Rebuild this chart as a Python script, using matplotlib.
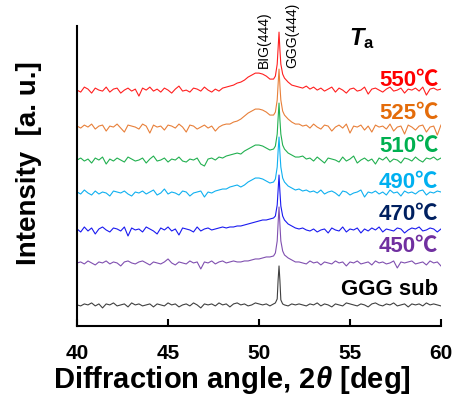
import matplotlib
matplotlib.use('Agg')
import matplotlib.pyplot as plt
import numpy as np

plt.rcParams['font.family'] = ['Liberation Sans', 'Noto Sans CJK JP']
plt.rcParams['mathtext.fontset'] = 'custom'
plt.rcParams['mathtext.rm'] = 'Liberation Sans:bold'
plt.rcParams['mathtext.it'] = 'Liberation Sans:italic:bold'
plt.rcParams['mathtext.bf'] = 'Liberation Sans:bold'

# ---- data (intensity relative to each trace's baseline, arbitrary units) ----
x_ticks = [40, 45, 50, 55, 60]
two_theta_mid = [49.0, 49.2, 49.4, 49.6, 49.8, 50.0, 50.2, 50.4, 50.6, 50.8, 50.9,
                 51.0, 51.05, 51.1, 51.15, 51.2, 51.3, 51.4, 51.6, 51.8, 52.0]

labels = ['550\u2103', '525\u2103', '510\u2103', '490\u2103', '470\u2103', '450\u2103', 'GGG sub']

red_left = [0,-2,3,1,-3,2,0,-1,3,-2,1,2,-3,0,2,-1,1,-6,2,0,3,-1,1,-2,2,0,-3,1,4,-1,0,-2,2,1,-1,3,0,-2,1,-1,2,3,4,5,7]
red_mid = [8,10,13,15,17,17,16,14,11,11,14,26,42,58,40,26,16,12,8,5,4]
red_right = [3,2,4,1,3,0,2,-1,1,3,-2,2,0,-3,1,2,-1,0,3,-4,1,2,0,-2,1,3,-1,0,2,-3,1,0,2,-1,3,-5,1,2,0,1]

orange_left = [1,-1,2,0,3,-2,1,2,-4,1,0,3,-1,-5,2,1,0,-2,3,1,-6,2,0,1,-3,2,1,-1,3,0,-5,2,1,-2,0,2,-1,1,-4,0,2,3,3,5,6]
orange_mid = [8,11,14,16,18,18,17,15,12,12,15,27,43,58,41,27,16,12,8,5,3]
orange_right = [3,1,2,-1,3,0,-2,2,1,-4,0,2,-1,3,-6,1,0,2,-3,1,-5,2,0,1,-2,3,-4,0,1,-7,2,0,-3,1,2,-5,0,1,-8,2]

green_left = [0,2,-1,1,-3,2,0,3,-4,1,-1,2,0,-2,3,1,-1,0,2,-3,1,4,-1,0,2,-2,1,0,3,-1,-2,1,0,2,-4,-6,1,2,0,3,2,4,5,6,7]
green_mid = [6,9,11,13,15,15,14,12,10,11,14,26,42,57,40,26,15,11,7,5,3]
green_right = [3,4,1,2,-1,3,0,-3,2,1,0,-2,3,-1,1,4,-3,0,2,-1,1,-4,2,0,3,-2,1,0,-3,2,1,-1,3,0,-2,2,1,3,0,2]

cyan_left = [1,-1,3,0,-2,2,-1,1,0,-3,2,1,0,2,-1,-3,1,0,2,-1,1,3,-2,0,4,-1,1,0,-2,2,1,-3,0,1,2,-4,1,0,2,3,4,4,6,7,8]
cyan_mid = [6,8,11,13,15,15,14,12,10,11,14,26,42,56,40,26,15,11,7,5,3]
cyan_right = [4,2,3,1,2,0,3,-1,1,2,0,-3,2,1,-2,0,1,3,-4,1,0,2,-1,1,-2,3,0,1,-3,2,0,1,-1,2,3,-2,1,0,2,1]

blue_left = [1,-2,3,-1,2,-4,1,3,0,-2,2,1,-1,3,-6,2,0,1,-2,3,1,-1,-4,2,0,3,-1,1,-5,2,1,0,-2,3,-1,1,2,0,1,2,3,2,3,3,4]
blue_mid = [4,5,6,7,8,9,10,10,11,12,14,25,40,55,38,24,14,10,6,4,2]
blue_right = [1,2,0,-1,1,-2,0,1,-3,2,0,-1,3,-2,1,0,2,-3,1,-1,2,0,3,-2,1,0,-1,2,1,-3,0,2,1,3,-1,0,2,1,-2,1]

purple_left = [0,1,-1,2,0,-2,1,0,2,-1,1,0,-3,1,2,0,-1,1,2,0,-2,1,0,-1,1,4,0,-2,1,0,-1,2,0,1,-6,1,0,2,-1,1,2,0,1,2,1]
purple_mid = [1,2,2,3,4,4,5,6,6,7,10,22,40,56,38,22,12,8,5,3,1]
purple_right = [1,0,-1,2,0,1,-2,1,0,-1,2,0,1,-3,1,0,2,-1,0,1,-2,2,0,1,-1,0,2,-5,1,0,1,2,-1,0,1,-2,2,0,1,-3]

black_left = [0,-1,1,0,2,-1,1,-3,1,0,2,-1,0,1,-2,2,0,1,-1,0,1,-2,1,0,-1,2,0,1,-2,0,1,-1,2,0,-3,1,0,1,-1,2,0,1,-2,1,2]
black_mid = [0,1,-1,0,2,1,0,1,-1,1,2,6,25,39,24,5,1,0,-1,1,0]
black_right = [1,0,-1,1,0,2,-1,1,0,-2,1,0,-1,2,1,0,-1,1,0,-2,1,2,0,-1,1,0,2,-1,0,1,-2,1,0,1,-1,2,0,1,0,-1]

# ---- presentation ----
offsets = [236, 199, 166, 133, 96, 63, 21]
line_colors = ['#FF2020', '#E8803A', '#22B050', '#10B0F0', '#1A1AF0', '#8050B0', '#404040']
label_colors = ['#FF0000', '#E46C0A', '#00B050', '#00B0F0', '#002060', '#7030A0', '#000000']
label_y = [246, 213, 180, 144, 111, 79, 36]

series = [
    (red_left, red_mid, red_right),
    (orange_left, orange_mid, orange_right),
    (green_left, green_mid, green_right),
    (cyan_left, cyan_mid, cyan_right),
    (blue_left, blue_mid, blue_right),
    (purple_left, purple_mid, purple_right),
    (black_left, black_mid, black_right),
]

fig = plt.figure(figsize=(4.56, 3.96), dpi=100)
ax = fig.add_axes([0.169, 0.177, 0.798, 0.757])

for (lft, mid, rgt), off, col in zip(series, offsets, line_colors):
    x = np.concatenate([np.linspace(40, 48.8, len(lft)), two_theta_mid,
                        np.linspace(52.2, 60, len(rgt))])
    y = np.concatenate([lft, mid, rgt]) + off
    ax.plot(x, y, color=col, lw=0.8)

for lab, ly, lc in zip(labels, label_y, label_colors):
    ax.text(59.85, ly, lab, color=lc, fontsize=16, fontweight='bold',
            ha='right', va='center')

ax.text(50.27, 258, 'BIG(444)', rotation=90, fontsize=10, ha='center', va='bottom')
ax.text(51.81, 258, 'GGG(444)', rotation=90, fontsize=10, ha='center', va='bottom')
ax.text(55.65, 288, r'$T_{\mathrm{a}}$', fontsize=17, ha='center', va='center')

ax.set_xlim(40, 60)
ax.set_ylim(0, 300)
ax.spines['top'].set_visible(False)
ax.spines['right'].set_visible(False)
ax.spines['left'].set_linewidth(1.5)
ax.spines['bottom'].set_linewidth(1.5)
ax.set_yticks([])
ax.set_xticks(x_ticks)
ax.tick_params(axis='x', direction='in', length=5, width=1.5, labelsize=15, pad=13)
for t in ax.get_xticklabels():
    t.set_fontweight('bold')

ax.set_xlabel('Diffraction angle, 2$\\theta$ [deg]', fontsize=21, fontweight='bold', labelpad=1)
ax.xaxis.label.set_x(0.426)
ax.set_ylabel('Intensity  [a. u.]', fontsize=20, fontweight='bold', labelpad=25)
ax.yaxis.label.set_y(0.543)

fig.savefig('out.png', dpi=100)
